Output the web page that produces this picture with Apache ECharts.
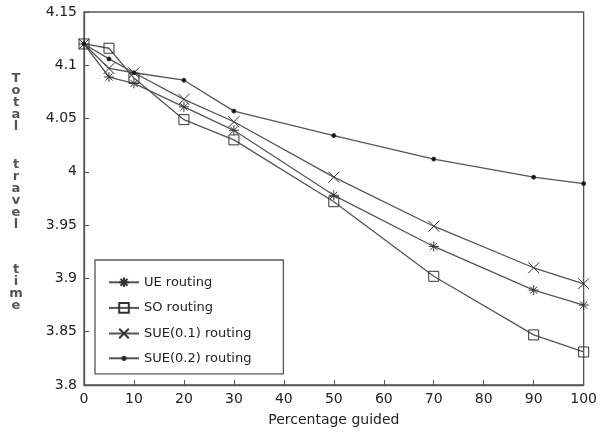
<!DOCTYPE html>
<html>
<head>
<meta charset="utf-8">
<script src="https://cdn.jsdelivr.net/npm/echarts@6/dist/echarts.min.js"></script>
<style>
html,body{margin:0;padding:0;background:#fff;}
#chart{width:600px;height:433px;}
</style>
</head>
<body>
<div id="chart"></div>
<script>
const xValues = [0, 5, 10, 20, 30, 50, 70, 90, 100];
const ueRouting = [4.12, 4.089, 4.083, 4.061, 4.039, 3.978, 3.930, 3.889, 3.875];
const soRouting = [4.12, 4.116, 4.088, 4.049, 4.030, 3.972, 3.902, 3.847, 3.831];
const sue01Routing = [4.12, 4.097, 4.093, 4.068, 4.047, 3.995, 3.949, 3.910, 3.895];
const sue02Routing = [4.12, 4.106, 4.093, 4.086, 4.057, 4.034, 4.012, 3.995, 3.989];
const seriesNames = ['UE routing', 'SO routing', 'SUE(0.1) routing', 'SUE(0.2) routing'];
const yTitleWords = ['Total', 'travel', 'time'];

const FONT = 'DejaVu Sans';
const LINE = '#555';
const MARK = '#333';

const asterisk = 'path://M0,-1L0,1M-1,0L1,0M-0.72,-0.72L0.72,0.72M-0.72,0.72L0.72,-0.72';
const cross = 'path://M-1,-0.8L1,0.8M-1,0.8L1,-0.8';
const smallDot = 'path://M-6,-6M6,6M-2,0A2,2,0,1,1,2,0A2,2,0,1,1,-2,0Z';

function pairs(ys){ return xValues.map((x,i)=>[x, ys[i]]); }

function mkSeries(name, data, symbol, size, fill){
  return {
    name: name, type: 'line', data: pairs(data),
    symbol: symbol, symbolSize: size,
    lineStyle: {color: LINE, width: 1.3},
    itemStyle: {color: fill, borderColor: MARK, borderWidth: 1},
    emphasis: {disabled: true},
    animation: false
  };
}

const chart = echarts.init(document.getElementById('chart'), null, {renderer: 'canvas'});

const graphics = [];
const yStarts = [79, 165, 270];
yTitleWords.forEach((w, k) => {
  w.split('').forEach((ch, j) => {
    graphics.push({
      type: 'text', x: 16, y: yStarts[k] + j * 12,
      style: {text: ch, font: 'bold 13px "' + FONT + '"', fill: '#555', align: 'center', verticalAlign: 'middle'}
    });
  });
});

chart.setOption({
  animation: false,
  backgroundColor: '#fff',
  grid: {left: 84, right: 13, top: 12, bottom: 48, show: true, borderColor: '#555', borderWidth: 1.3},
  xAxis: {
    type: 'value', min: 0, max: 100, interval: 10,
    name: 'Percentage guided', nameLocation: 'middle', nameGap: 28,
    nameTextStyle: {fontFamily: FONT, fontSize: 14, color: '#222'},
    axisLine: {show: true, lineStyle: {color: '#555', width: 1.3}},
    axisTick: {show: true, inside: true, length: 5, lineStyle: {color: '#555'}},
    axisLabel: {fontFamily: FONT, fontSize: 14, color: '#222', margin: 7},
    splitLine: {show: false}
  },
  yAxis: {
    type: 'value', min: 3.8, max: 4.15, interval: 0.05,
    axisLine: {show: true, lineStyle: {color: '#555', width: 1.3}},
    axisTick: {show: true, inside: true, length: 5, lineStyle: {color: '#555'}},
    axisLabel: {fontFamily: FONT, fontSize: 14, color: '#222', margin: 7,
      formatter: v => String(parseFloat(v.toFixed(2)))},
    splitLine: {show: false}
  },
  legend: {
    orient: 'vertical', left: 95, top: 260,
    padding: [15, 32, 9, 13],
    itemGap: 11, itemWidth: 30, itemHeight: 12,
    borderColor: '#555', borderWidth: 1.3, backgroundColor: '#fff',
    textStyle: {fontFamily: FONT, fontSize: 13, color: '#222'},
    data: seriesNames
  },
  graphic: graphics,
  series: [
    mkSeries(seriesNames[0], ueRouting, asterisk, 10, 'none'),
    mkSeries(seriesNames[1], soRouting, 'rect', 10, 'none'),
    mkSeries(seriesNames[2], sue01Routing, cross, 11, 'none'),
    mkSeries(seriesNames[3], sue02Routing, smallDot, 12, '#111')
  ]
});
</script>
</body>
</html>
